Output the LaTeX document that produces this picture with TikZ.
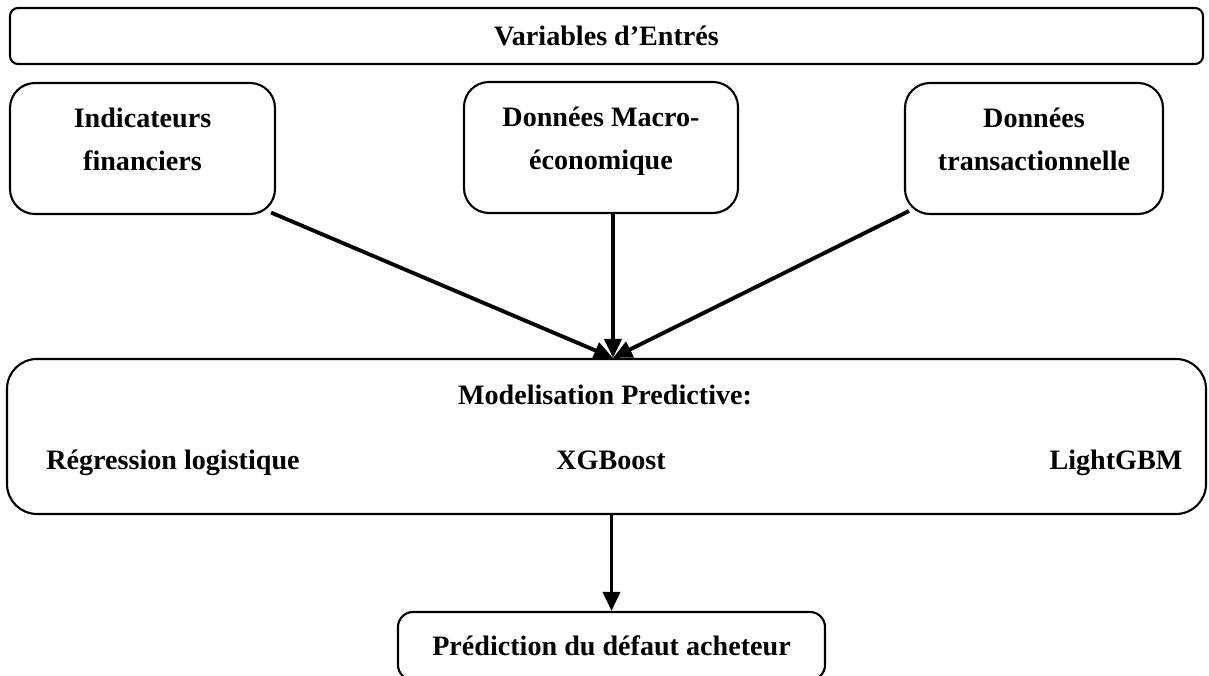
\documentclass[tikz,border=0pt]{standalone}
\usepackage{fontspec}
\setmainfont{Liberation Serif}
\usepackage{tikz}
\usetikzlibrary{arrows.meta,positioning,calc}
\tikzset{
  varBox/.style={draw=black, line width=1.2pt, rounded corners=0.16cm,
    minimum width=23.86cm, minimum height=1.12cm, align=center},
  srcBox/.style={draw=black, line width=1.2pt, rounded corners=0.5cm,
    minimum height=2.62cm, align=center, inner sep=0pt, text depth=0.36cm},
  modBox/.style={draw=black, line width=1.2pt, rounded corners=0.6cm,
    minimum width=23.98cm, minimum height=3.10cm},
  outBox/.style={draw=black, line width=1.2pt, rounded corners=0.3cm,
    minimum width=8.54cm, minimum height=1.36cm, align=center},
  modText/.style={anchor=base},
  %% Flow arrows
  flow/.style={-{Triangle[length=0.38cm, width=0.34cm]}, line width=2.2pt},
}

\begin{document}
\begin{tikzpicture}[x=1cm, y=1cm, font=\fontsize{16}{24.5}\selectfont\bfseries]
\useasboundingbox (0,0) rectangle (24.18,-13.52);

%% Inputs
\node[varBox] (vars) at (12.13,-0.72) {Variables d'Entrés};
\node[srcBox, minimum width=5.30cm] (ind)   at ( 2.85,-2.97) {Indicateurs\\financiers};
\node[srcBox, minimum width=5.48cm] (macro) at (12.02,-2.95) {Données Macro-\\économique};
\node[srcBox, minimum width=5.16cm] (trans) at (20.68,-2.97) {Données\\transactionnelle};

%% Models
\node[modBox] (model) at (12.13,-8.73) {};
\node[modText] (mtitle) at (12.10,-8.10) {Modelisation Predictive:};
\node[modText] (mlr)    at ( 3.46,-9.40) {Régression logistique};
\node[modText] (mxgb)   at (12.22,-9.40) {XGBoost};
\node[modText] (mlgbm)  at (22.32,-9.40) {LightGBM};

%% Output
\node[outBox] (pred) at (12.23,-12.92) {Prédiction du défaut acheteur};

\coordinate (hub) at ($(model.north)+(0.13,0)$);
\draw[flow] ($(ind.south east)+(-0.10,0.05)$) -- (hub);
\draw[flow] (macro.south -| hub) -- (hub);
\draw[flow] ($(trans.south west)+(0.10,0.08)$) -- (hub);
\draw[flow] (model.south -| pred.north) -- (pred.north);

\end{tikzpicture}
\end{document}
